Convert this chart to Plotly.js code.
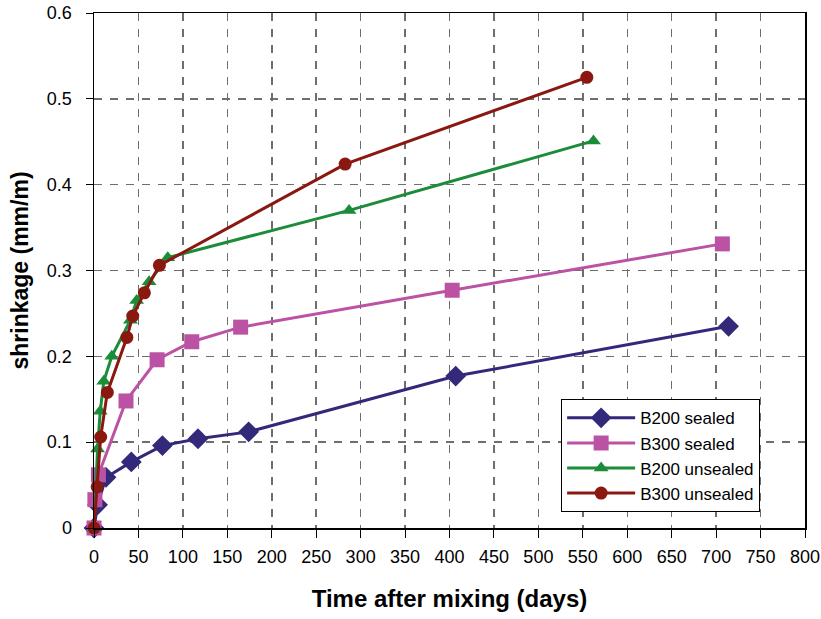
<!DOCTYPE html>
<html>
<head>
<meta charset="utf-8">
<script src="https://cdn.plot.ly/plotly-3.0.1.min.js"></script>
<style>
html,body{margin:0;padding:0;background:#fff;}
#chart{width:821px;height:619px;}
</style>
</head>
<body>
<div id="chart"></div>
<script>
// Data
const b200SealedDays = [0, 4, 13.5, 42, 77, 117, 174, 407, 714];
const b200SealedShrink = [0, 0.027, 0.059, 0.077, 0.096, 0.104, 0.112, 0.177, 0.235];

const b300SealedDays = [0, 1, 5, 36, 71, 110, 165, 403, 707];
const b300SealedShrink = [0, 0.033, 0.062, 0.148, 0.196, 0.217, 0.234, 0.277, 0.331];

const b200UnsealedDays = [0, 4, 7, 11, 20, 41, 48, 62, 83, 287, 562];
const b200UnsealedShrink = [0, 0.092, 0.136, 0.171, 0.200, 0.242, 0.265, 0.287, 0.315, 0.370, 0.451];

const b300UnsealedDays = [0, 3.5, 7.5, 15, 37, 43.6, 56.7, 73.6, 282.6, 554.5];
const b300UnsealedShrink = [0, 0.048, 0.106, 0.158, 0.222, 0.247, 0.274, 0.306, 0.424, 0.525];

const seriesNames = ["B200 sealed", "B300 sealed", "B200 unsealed", "B300 unsealed"];
const xTitle = "Time after mixing (days)";
const yTitle = "shrinkage (mm/m)";

const FONT = "Liberation Sans, Arial, sans-serif";

function mk(name, x, y, color, symbol, size) {
  return {
    type: "scatter", mode: "lines+markers", name: name, x: x, y: y,
    line: {color: color, width: 3},
    marker: {color: color, symbol: symbol, size: size, line: {width: 0}},
    cliponaxis: false
  };
}

const traces = [
  mk(seriesNames[0], b200SealedDays, b200SealedShrink, "#33297a", "diamond", 16),
  mk(seriesNames[1], b300SealedDays, b300SealedShrink, "#bb52a3", "square", 15),
  mk(seriesNames[2], b200UnsealedDays, b200UnsealedShrink, "#1b8c3a", "triangle-up", 13),
  mk(seriesNames[3], b300UnsealedDays, b300UnsealedShrink, "#8a1811", "circle", 13)
];

const layout = {
  width: 821, height: 619,
  margin: {l: 94, r: 16, t: 13, b: 91},
  paper_bgcolor: "#fff", plot_bgcolor: "#fff",
  font: {family: FONT, color: "#000", size: 16},
  showlegend: true,
  legend: {
    x: 0.657, y: 0.25, xanchor: "left", yanchor: "top",
    bgcolor: "#fff", bordercolor: "#000", borderwidth: 1,
    font: {family: FONT, size: 17, color: "#000"},
    tracegroupgap: 0, itemwidth: 68
  },
  xaxis: {
    range: [0, 800], dtick: 50, tick0: 0,
    showline: true, linecolor: "#000", linewidth: 1.5, mirror: true,
    ticks: "outside", ticklen: 8, tickcolor: "#000", tickwidth: 1,
    ticklabelstandoff: 4,
    showgrid: true, gridcolor: "#6e6e6e", gridwidth: 1.5, griddash: "8px,8px",
    zeroline: false,
    tickfont: {family: FONT, size: 18, color: "#000"},
    title: {text: xTitle, font: {family: FONT, size: 24, color: "#000", weight: "bold"}, standoff: 24}
  },
  yaxis: {
    range: [0, 0.6], dtick: 0.1, tick0: 0,
    showline: true, linecolor: "#000", linewidth: 1.5, mirror: true,
    ticks: "outside", ticklen: 7, tickcolor: "#000", tickwidth: 1,
    ticklabelstandoff: 10,
    showgrid: true, gridcolor: "#6e6e6e", gridwidth: 1.5, griddash: "8px,8px",
    zeroline: false,
    tickformat: "~g",
    tickfont: {family: FONT, size: 18, color: "#000"},
    title: {text: yTitle, font: {family: FONT, size: 23, color: "#000", weight: "bold"}, standoff: 12}
  }
};

Plotly.newPlot("chart", traces, layout, {displayModeBar: false, staticPlot: true});
</script>
</body>
</html>
